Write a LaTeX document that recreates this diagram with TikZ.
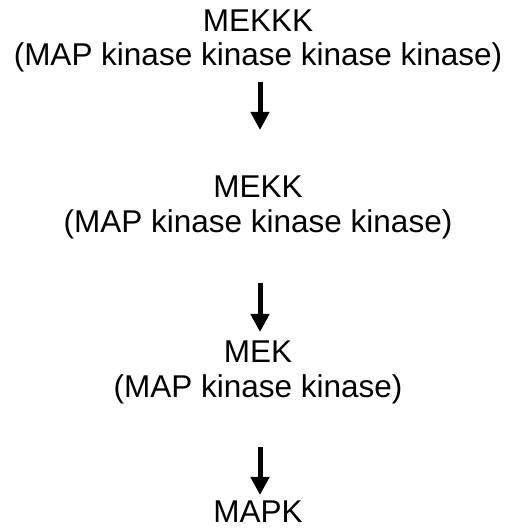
\documentclass[tikz,border=0pt]{standalone}
\usepackage{fontspec}
\setmainfont{Liberation Sans}
\usetikzlibrary{arrows.meta}
\begin{document}
\begin{tikzpicture}[x=1pt,y=1pt,
  lbl/.style={anchor=base,inner sep=0pt,font=\fontsize{31.5}{35}\selectfont},
  pathway/.style={line width=5pt,-{Triangle[width=18pt,length=18pt]}}]
\useasboundingbox (0,0) rectangle (509,530);
\node[lbl] (mekkk) at (258,498) {MEKKK};
\node[lbl] (mekkkfull) at (258,464) {(MAP kinase kinase kinase kinase)};
\node[lbl] (mekk) at (258,332) {MEKK};
\node[lbl] (mekkfull) at (258,297) {(MAP kinase kinase kinase)};
\node[lbl] (mek) at (258,167) {MEK};
\node[lbl] (mekfull) at (258,132) {(MAP kinase kinase)};
\node[lbl] (mapk) at (258,7) {MAPK};
\coordinate (a1s) at (260,448);
\coordinate (a1e) at (260,400);
\coordinate (a2s) at (260,247);
\coordinate (a2e) at (260,198);
\coordinate (a3s) at (260,83);
\coordinate (a3e) at (260,35);
\draw[pathway] (a1s) -- (a1e);
\draw[pathway] (a2s) -- (a2e);
\draw[pathway] (a3s) -- (a3e);
\end{tikzpicture}
\end{document}
